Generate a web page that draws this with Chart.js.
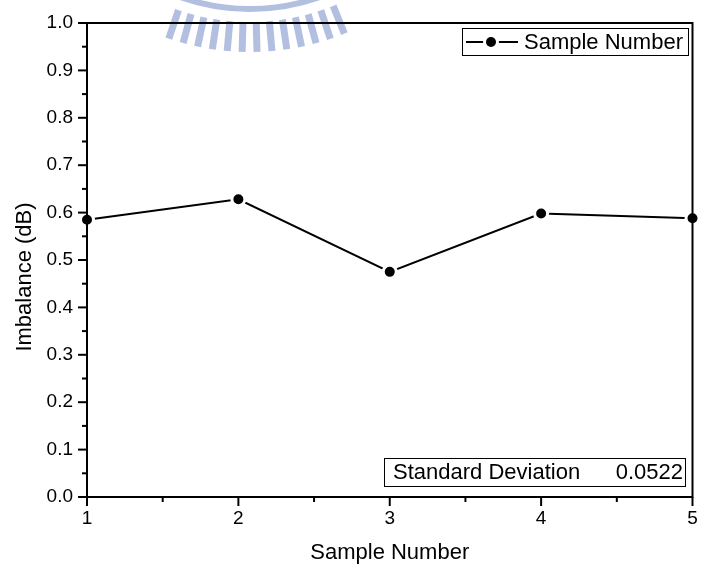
<!DOCTYPE html>
<html>
<head>
<meta charset="utf-8">
<script src="https://cdn.jsdelivr.net/npm/chart.js@4.4.0/dist/chart.umd.min.js"></script>
<style>
html, body { margin: 0; padding: 0; background: #fff; }
#wrap { width: 702px; height: 571px; }
</style>
</head>
<body>
<div id="wrap"><canvas id="chart" width="702" height="571"></canvas></div>
<script>
// 데이터
const samples = [1, 2, 3, 4, 5];
const imbalance = [0.585, 0.628, 0.475, 0.598, 0.588];
const xTicks = [1, 2, 3, 4, 5];
const yTicks = [0, 0.1, 0.2, 0.3, 0.4, 0.5, 0.6, 0.7, 0.8, 0.9, 1.0];
const seriesName = 'Sample Number';
const statLabel = 'Standard Deviation';
const statValue = '0.0522';
const xTitle = 'Sample Number';
const yTitle = 'Imbalance (dB)';

const FONT = '"Liberation Sans", Arial, sans-serif';

// 배경 워터마크 (상단 로고)
const watermark = {
	id: 'watermark',
	beforeDraw(chart) {
		const ctx = chart.ctx;
		const cx = 250, cy = -200;
		ctx.save();
		ctx.strokeStyle = '#b3bfe0';
		ctx.lineWidth = 6;
		ctx.beginPath();
		ctx.arc(cx, cy, 209, 0, Math.PI);
		ctx.stroke();
		ctx.lineWidth = 3;
		ctx.beginPath();
		ctx.arc(cx, cy, 197, 0, Math.PI);
		ctx.stroke();
		ctx.lineWidth = 7;
		for (let a = -22; a <= 22.1; a += 3.4) {
			const t = (90 + a) * Math.PI / 180;
			ctx.beginPath();
			ctx.moveTo(cx + Math.cos(t) * 222, cy + Math.sin(t) * 222);
			ctx.lineTo(cx + Math.cos(t) * 252, cy + Math.sin(t) * 252);
			ctx.stroke();
		}
		ctx.restore();
	}
};

// 축 프레임, 눈금, 제목, 범례, 통계 박스
const frame = {
	id: 'frame',
	afterDatasetsDraw(chart) {
		const ctx = chart.ctx;
		const ca = chart.chartArea;
		const xs = chart.scales.x, ys = chart.scales.y;
		ctx.save();
		ctx.strokeStyle = '#000';
		ctx.lineWidth = 2;
		ctx.strokeRect(ca.left, ca.top, ca.right - ca.left, ca.bottom - ca.top);

		function seg(x1, y1, x2, y2) {
			ctx.beginPath();
			ctx.moveTo(x1, y1);
			ctx.lineTo(x2, y2);
			ctx.stroke();
		}
		yTicks.forEach(function (v, i) {
			const py = ys.getPixelForValue(v);
			seg(ca.left - 9, py, ca.left, py);
			if (i < yTicks.length - 1) {
				const pm = ys.getPixelForValue((v + yTicks[i + 1]) / 2);
				seg(ca.left - 5, pm, ca.left, pm);
			}
		});
		xTicks.forEach(function (v, i) {
			const px = xs.getPixelForValue(v);
			seg(px, ca.bottom, px, ca.bottom + 9);
			if (i < xTicks.length - 1) {
				const pm = xs.getPixelForValue((v + xTicks[i + 1]) / 2);
				seg(pm, ca.bottom, pm, ca.bottom + 5);
			}
		});

		// 축 제목
		ctx.fillStyle = '#000';
		ctx.font = '22px ' + FONT;
		ctx.textAlign = 'center';
		ctx.textBaseline = 'middle';
		ctx.fillText(xTitle, (ca.left + ca.right) / 2, 553);
		ctx.save();
		ctx.translate(25, 277);
		ctx.rotate(-Math.PI / 2);
		ctx.fillText(yTitle, 0, 0);
		ctx.restore();

		// 범례
		ctx.lineWidth = 1;
		ctx.strokeRect(462.5, 28.5, 226, 27);
		ctx.lineWidth = 2;
		seg(466, 42, 518, 42);
		ctx.fillStyle = '#fff';
		ctx.beginPath();
		ctx.arc(491, 42, 8, 0, Math.PI * 2);
		ctx.fill();
		ctx.fillStyle = '#000';
		ctx.beginPath();
		ctx.arc(491, 42, 5, 0, Math.PI * 2);
		ctx.fill();
		ctx.textAlign = 'left';
		ctx.fillText(seriesName, 524, 43);

		// 표준편차 박스
		ctx.lineWidth = 1;
		ctx.strokeRect(384.5, 458.5, 301, 28);
		ctx.textAlign = 'left';
		ctx.fillText(statLabel, 393, 473);
		ctx.textAlign = 'right';
		ctx.fillText(statValue, 683, 473);
		ctx.restore();
	}
};

const ctx = document.getElementById('chart').getContext('2d');
const chart = new Chart(ctx, {
	type: 'line',
	data: {
		datasets: [{
			label: seriesName,
			data: samples.map(function (s, i) { return { x: s, y: imbalance[i] }; }),
			borderColor: '#000',
			borderWidth: 2,
			pointRadius: 6.5,
			pointHoverRadius: 6.5,
			pointBackgroundColor: '#000',
			pointBorderColor: '#fff',
			pointBorderWidth: 3,
			tension: 0,
			clip: false
		}]
	},
	options: {
		responsive: false,
		animation: false,
		events: [],
		layout: { padding: { top: 23, right: 6, left: 0, bottom: 0 } },
		plugins: {
			legend: { display: false },
			tooltip: { enabled: false }
		},
		scales: {
			x: {
				type: 'linear',
				min: 1,
				max: 5,
				grid: { drawOnChartArea: false, drawTicks: false },
				border: { display: false },
				ticks: {
					color: '#000',
					font: { family: FONT, size: 19 },
					padding: 10,
					maxRotation: 0,
					callback: function (v) { return String(v); }
				},
				afterBuildTicks: function (s) { s.ticks = xTicks.map(function (v) { return { value: v }; }); },
				afterFit: function (s) { s.height = 74; s.paddingLeft = 0; s.paddingRight = 0; }
			},
			y: {
				min: 0,
				max: 1,
				grid: { drawOnChartArea: false, drawTicks: false },
				border: { display: false },
				ticks: {
					color: '#000',
					font: { family: FONT, size: 19 },
					padding: 14,
					callback: function (v) { return Number(v).toFixed(1); }
				},
				afterBuildTicks: function (s) { s.ticks = yTicks.map(function (v) { return { value: v }; }); },
				afterFit: function (s) { s.width = 87; s.paddingTop = 0; s.paddingBottom = 0; }
			}
		}
	},
	plugins: [watermark, frame]
});
</script>
</body>
</html>
